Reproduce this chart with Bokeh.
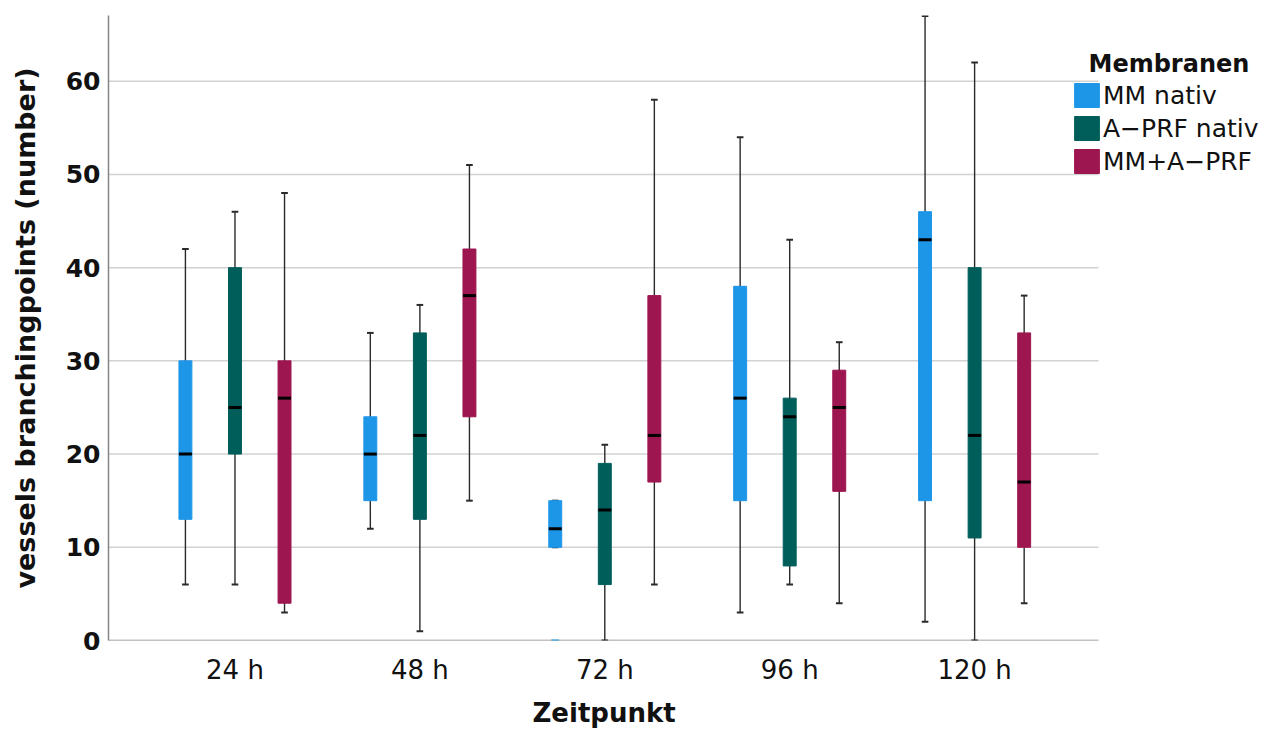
from bokeh.plotting import figure
from bokeh.models import ColumnDataSource, Legend, LegendItem, FixedTicker, Range1d, Label, Title
from bokeh.transform import dodge
from bokeh.embed import file_html
from bokeh.resources import INLINE

# Time points and membrane groups
zeitpunkte = ["24 h", "48 h", "72 h", "96 h", "120 h"]
positionen = [1, 2, 3, 4, 5]
gruppen = ["MM nativ", "A\u2212PRF nativ", "MM+A\u2212PRF"]
farben = ["#1E96E8", "#005E5A", "#9E1650"]

# Box-plot statistics per group (one value per time point)
mm_low = [6, 12, 10, 3, 2]
mm_q1 = [13, 15, 10, 15, 15]
mm_med = [20, 20, 12, 26, 43]
mm_q3 = [30, 24, 15, 38, 46]
mm_high = [42, 33, 15, 54, 67]

aprf_low = [6, 1, 0, 6, 0]
aprf_q1 = [20, 13, 6, 8, 11]
aprf_med = [25, 22, 14, 24, 22]
aprf_q3 = [40, 33, 19, 26, 40]
aprf_high = [46, 36, 21, 43, 62]

mix_low = [3, 15, 6, 4, 4]
mix_q1 = [4, 24, 17, 16, 10]
mix_med = [26, 37, 22, 25, 17]
mix_q3 = [30, 42, 37, 29, 33]
mix_high = [48, 51, 58, 32, 37]

# Separate single value at 72 h for MM nativ
mm_extra_pos = [3]
mm_extra_v = [0]

y_ticks = [0, 10, 20, 30, 40, 50, 60]

stats = [
    (mm_low, mm_q1, mm_med, mm_q3, mm_high),
    (aprf_low, aprf_q1, aprf_med, aprf_q3, aprf_high),
    (mix_low, mix_q1, mix_med, mix_q3, mix_high),
]
offsets = [-0.268, 0.0, 0.268]

FONT = "DejaVu Sans"
INK = "#111111"

# The data area ends at X_END; the frame continues to the right to hold the legend.
X_START, X_END = 0.316, 5.670
PX_PER_UNIT = 990 / (X_END - X_START)
FRAME_W = 1159
X_VIEW_END = X_START + FRAME_W / PX_PER_UNIT

p = figure(
    frame_width=FRAME_W, frame_height=625,
    x_range=Range1d(X_START, X_VIEW_END),
    y_range=Range1d(0, 67.05),
    output_backend="svg", toolbar_location=None,
    min_border_left=108, min_border_right=0, min_border_top=15, min_border_bottom=0,
)
p.outline_line_color = None
p.background_fill_color = "white"
p.xgrid.grid_line_color = None
p.ygrid.grid_line_color = None
p.yaxis.ticker = FixedTicker(ticks=y_ticks)
p.xaxis.ticker = FixedTicker(ticks=positionen)
p.xaxis.major_label_overrides = {pos: lab for pos, lab in zip(positionen, zeitpunkte)}

for ax in (p.xaxis[0], p.yaxis[0]):
    ax.axis_line_color = "#858585"
    ax.axis_line_width = 1.5
    ax.major_tick_line_color = None
    ax.minor_tick_line_color = None
    ax.major_label_text_font = FONT
    ax.major_label_text_color = INK
    ax.axis_label_text_font = FONT
    ax.axis_label_text_font_style = "bold"
    ax.axis_label_text_color = INK
p.xaxis.axis_line_color = None

p.yaxis.major_label_text_font_size = "25px"
p.yaxis.major_label_text_font_style = "bold"
p.yaxis.major_label_standoff = 2
p.yaxis.axis_label = "vessels branchingpoints (number)"
p.yaxis.axis_label_text_font_size = "27px"
p.yaxis.axis_label_standoff = 22

p.xaxis.major_label_text_font_size = "26px"
p.xaxis.major_label_standoff = 8

# horizontal grid lines and bottom axis line, limited to the data area
grid_src = ColumnDataSource(dict(y=y_ticks[1:], x0=[X_START] * 6, x1=[X_END] * 6))
p.segment(x0="x0", y0="y", x1="x1", y1="y", source=grid_src,
          line_color="#d2d2d2", line_width=1.5)
p.segment(x0=[X_START], y0=[0], x1=[X_END], y1=[0], line_color="#858585", line_width=1.5)

box_w = 0.07
cap_w = 0.036
legend_items = []
for (low, q1, med, q3, high), off, col, name in zip(stats, offsets, farben, gruppen):
    src = ColumnDataSource(dict(x=positionen, low=low, q1=q1, med=med, q3=q3, high=high))
    xs = dodge("x", off)
    # whiskers and caps
    p.segment(x0=xs, y0="low", x1=xs, y1="high", source=src,
              line_color="#2a2a2a", line_width=1.4)
    for end in ("low", "high"):
        p.rect(x=xs, y=end, width=cap_w, height=2, height_units="screen",
               source=src, fill_color="#2a2a2a", line_color=None)
    # boxes
    r = p.vbar(x=xs, bottom="q1", top="q3", width=box_w, source=src,
               fill_color=col, line_color=col, line_width=1)
    # medians
    p.rect(x=xs, y="med", width=box_w, height=3, height_units="screen",
           source=src, fill_color="black", line_color=None)
    legend_items.append(LegendItem(label=name, renderers=[r]))

extra_src = ColumnDataSource(dict(x=mm_extra_pos, v=mm_extra_v))
p.rect(x=dodge("x", offsets[0]), y="v", width=box_w * 0.6, height=2,
       height_units="screen", source=extra_src, fill_color=farben[0], line_color=None)

legend = Legend(items=legend_items, location=(963, 464))
legend.label_text_font = FONT
legend.label_text_font_size = "25px"
legend.label_text_color = INK
legend.glyph_width = 31
legend.glyph_height = 30
legend.label_height = 24
legend.label_standoff = 1
legend.spacing = 3
legend.padding = 0
legend.margin = 0
legend.border_line_color = None
legend.background_fill_alpha = 0
p.add_layout(legend)

p.add_layout(Label(x=5.616, y=61.8, text="Membranen", text_font=FONT,
                   text_baseline="alphabetic", text_font_size="24px",
                   text_font_style="bold", text_color=INK))

# x axis title, centred under the data area
x_title = Title(text="Zeitpunkt", align="left", offset=424, standoff=20,
                vertical_align="top", text_font=FONT, text_font_size="26px",
                text_font_style="bold", text_color=INK)
p.add_layout(x_title, "below")

open("out.html", "w").write(file_html(p, INLINE))
